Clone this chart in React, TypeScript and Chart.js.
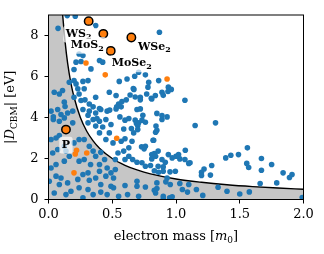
import React, { useEffect, useRef } from "react";
import { Chart, registerables } from "chart.js";
Chart.register(...registerables);

const bluePts: [number, number][] = [
  [0.075,8.35],[0.147,8.97],[0.21,8.94],[0.37,8.49],[0.27,7.02],[0.24,7.1],[0.255,6.73],[0.216,6.7],[0.40,6.78],[0.425,6.7],[0.20,6.34],[0.333,6.37],[0.163,5.72],[0.2,5.8],[0.216,5.64],[0.27,5.76],[0.31,5.8],[0.23,5.4],[0.28,5.4],[0.24,5.15],[0.045,5.23],[0.085,5.15],[0.11,5.32],[0.2,4.99],[0.255,4.83],[0.32,4.66],[0.37,4.99],[0.477,5.23],[0.124,4.75],
  [0.87,8.16],[0.707,6.21],[0.76,6.08],[0.676,6.01],[0.616,5.88],[0.555,5.76],[0.786,5.72],[0.864,5.8],[0.67,5.37],[0.78,5.48],[0.94,5.48],[0.963,5.37],[0.937,5.27],[0.89,5.23],[0.838,5.07],[0.806,4.94],[0.64,5.1],[0.72,4.99],[0.77,5.15],[0.53,5.07],[0.576,4.78],[0.55,4.66],
  [1.07,4.84],[0.85,4.2],[0.89,3.9],[0.93,4.03],[0.843,3.58],[1.15,3.61],[1.31,3.74],
  [1.073,2.40],[1.02,2.19],[1.03,1.98],[1.07,1.95],[1.10,1.76],[1.22,1.49],[1.20,1.33],[1.20,1.17],[1.27,1.19],[1.28,1.66],[1.39,2.03],[1.43,2.16],[1.49,2.19],[1.03,0.78],[1.10,0.73],[1.05,0.49],[1.09,0.36],[1.16,0.49],[1.21,0.2],[1.33,0.6],[1.40,0.4],[1.50,0.27],
  [1.56,2.52],[1.555,1.76],[1.57,1.56],[1.67,2.0],[1.67,1.43],[1.75,1.71],[1.84,1.30],[1.91,1.22],[1.89,1.07],[1.79,0.81],[1.66,0.78],[1.575,0.37],[1.99,0.1],
  [0.92,0.86],[0.95,0.08],[0.9,0.03],[0.85,0.54],[0.83,0.45],[1.11,1.79],[0.94,2.19],[0.90,1.59],[0.953,1.35],[0.83,2.24],[0.86,2.36],[0.82,2.89],[0.85,3.38],
  [0.53,4.42],[0.694,4.39],[0.72,4.42],[0.89,4.1],[0.6,3.87],[0.68,3.87],[0.733,3.87],[0.76,3.77],[0.707,3.74],[0.70,3.6],[0.59,3.44],[0.668,3.25],[0.70,3.41],[0.84,3.28],[0.506,2.76],[0.57,2.84],[0.60,2.96],[0.655,2.84],[0.63,2.52],[0.73,2.57],[0.75,2.47],[0.76,2.6],[0.825,2.89],[0.545,2.27],[0.59,2.36],[0.63,2.11],[0.60,1.95],[0.66,1.95],[0.694,1.82],[0.733,1.79],[0.81,2.19],[0.81,1.98],[0.84,2.11],[0.76,1.62],[0.80,1.66],[0.86,1.62],[0.89,1.95],[0.916,1.82],[0.97,2.03],[1.0,2.11],[0.995,1.38],[0.864,1.33],[0.90,1.38],[0.83,1.4],[0.524,1.95],[0.524,1.46],[0.51,1.05],[0.60,0.68],[0.694,0.89],[0.694,0.65],[0.76,0.61],[0.85,0.81],[0.955,0.73],[0.51,0.57],[0.55,0.16],[0.62,0.24],[0.707,0.16],[0.84,0.32],[0.90,0.16],[0.97,0.13],[0.93,1.05],
  [0.27,4.39],[0.32,4.31],[0.37,4.22],[0.41,4.39],[0.46,4.31],[0.35,3.9],[0.40,3.82],[0.45,3.9],[0.31,3.74],[0.37,3.58],[0.425,3.54],[0.49,3.66],[0.477,3.25],[0.45,2.93],[0.40,3.25],
  [0.286,4.86],[0.35,4.52],[0.40,4.44],[0.48,4.36],[0.535,4.52],[0.31,4.11],[0.38,3.95],[0.69,3.71],[0.74,4.11],[0.81,4.9],[0.9,5.08],[0.665,5.41],[0.68,5.0],[0.72,4.86],[0.61,4.86],[0.57,4.52],[0.56,4.03],[0.63,3.95],[0.65,3.46],
  [0.02,4.31],[0.072,4.39],[0.098,4.15],[0.038,3.9],[0.085,3.82],[0.124,3.98],[0.15,4.22],[0.19,3.74],[0.19,4.31],[0.24,2.93],[0.20,2.76],[0.28,2.93],[0.32,2.6],[0.35,2.36],[0.37,2.11],[0.41,2.3],[0.44,1.95],[0.40,1.71],[0.46,1.54],[0.33,1.71],[0.28,1.95],[0.24,1.87],[0.163,2.11],[0.124,1.87],[0.059,1.71],[0.02,1.54],[0.059,1.14],[0.098,1.05],[0.15,0.81],[0.23,0.98],[0.27,1.22],[0.31,1.30],[0.32,0.94],[0.37,1.05],[0.41,0.73],[0.45,1.14],[0.49,1.30],[0.40,1.38],[0.24,0.57],[0.31,0.49],[0.176,0.4],[0.137,0.24],[0.35,0.24],[0.41,0.36],[0.46,0.24],[0.49,0.65],[0.045,0.32],[0.085,0.73],[0.006,0.89],[0.27,0.08],[0.124,2.6],[0.072,2.44],[0.033,2.27],[0.137,2.36],[0.02,2.93],[0.059,3.0],[0.085,3.12],
  [0.038,4.03],[0.13,4.54],
];

const orangePts: [number, number][] = [
  [0.294,6.66],[0.445,6.08],[0.93,5.88],[0.22,2.40],[0.21,2.22],[0.30,2.27],[0.2,1.3],[0.535,2.99],
];

const hlNames = ["WS_2", "MoS_2", "MoSe_2", "WSe_2", "P"];
const hlMass = [0.315, 0.43, 0.488, 0.65, 0.137];
const hlD = [8.70, 8.08, 7.25, 7.90, 3.41];

const curveMass = [0.111, 0.13, 0.15, 0.175, 0.2, 0.25, 0.3, 0.35, 0.4, 0.5, 0.6, 0.7, 0.8, 1.0, 1.2, 1.4, 1.6, 1.8, 2.0];
const curveD = [9.0, 7.7, 6.65, 5.7, 5.0, 4.0, 3.33, 2.86, 2.5, 2.0, 1.67, 1.43, 1.25, 1.0, 0.84, 0.72, 0.63, 0.56, 0.5];

const xTicks = [0, 0.5, 1.0, 1.5, 2.0];
const yTicks = [0, 2, 4, 6, 8];

const FAM = "'DejaVu Serif', serif";
const labelOffsets: [number, number][] = [[-10, 15.5], [-16, 14], [21, 15.5], [23, 12], [0, 18]];

type Seg = { t: string; sub?: boolean; it?: boolean };

function parseName(n: string): Seg[] {
  const i = n.indexOf("_");
  if (i < 0) return [{ t: n }];
  return [{ t: n.slice(0, i) }, { t: n.slice(i + 1), sub: true }];
}

function fontFor(s: Seg, size: number, bold: boolean) {
  const sz = s.sub ? Math.round(size * 0.72) : size;
  return `${s.it ? "italic " : ""}${bold ? "bold " : ""}${sz}px ${FAM}`;
}

function measure(ctx: CanvasRenderingContext2D, segs: Seg[], size: number, bold: boolean) {
  let w = 0;
  for (const s of segs) {
    ctx.font = fontFor(s, size, bold);
    w += ctx.measureText(s.t).width;
  }
  return w;
}

function drawRich(ctx: CanvasRenderingContext2D, segs: Seg[], cx: number, baseline: number, size: number, bold: boolean) {
  const w = measure(ctx, segs, size, bold);
  let x = cx - w / 2;
  ctx.textAlign = "left";
  ctx.textBaseline = "alphabetic";
  ctx.fillStyle = "#000";
  for (const s of segs) {
    ctx.font = fontFor(s, size, bold);
    ctx.fillText(s.t, x, baseline + (s.sub ? size * 0.25 : 0));
    x += ctx.measureText(s.t).width;
  }
  return w;
}

const decor = {
  id: "decor",
  afterDatasetsDraw(chart: any) {
    const { ctx, chartArea: a, scales } = chart;
    const xs = scales.x, ys = scales.y;
    ctx.save();
    ctx.strokeStyle = "#000";
    ctx.lineWidth = 1;
    ctx.strokeRect(a.left, a.top, a.right - a.left, a.bottom - a.top);
    const size = 11;
    hlNames.forEach((n, i) => {
      const px = xs.getPixelForValue(hlMass[i]) + labelOffsets[i][0];
      const py = ys.getPixelForValue(hlD[i]) + labelOffsets[i][1];
      const segs = parseName(n);
      const w = measure(ctx, segs, size, true);
      ctx.fillStyle = "rgba(255,255,255,0.7)";
      ctx.beginPath();
      (ctx as any).roundRect(px - w / 2 - 2.5, py - size * 0.85 - 1.5, w + 5, size * 1.25 + 3, 2.5);
      ctx.fill();
      drawRich(ctx, segs, px, py, size, true);
    });
    ctx.restore();
  },
  afterDraw(chart: any) {
    const { ctx, chartArea: a } = chart;
    ctx.save();
    const xt: Seg[] = [{ t: "electron mass [" }, { t: "m", it: true }, { t: "0", sub: true }, { t: "]" }];
    drawRich(ctx, xt, (a.left + a.right) / 2, 239.5, 13, false);
    ctx.translate(14, (a.top + a.bottom) / 2);
    ctx.rotate(-Math.PI / 2);
    const yt: Seg[] = [{ t: "|" }, { t: "D", it: true }, { t: "CBM", sub: true }, { t: "| [eV]" }];
    drawRich(ctx, yt, 0, 0, 13, false);
    ctx.restore();
  },
};

export default function App() {
  const ref = useRef<HTMLCanvasElement | null>(null);
  useEffect(() => {
    if (!ref.current) return;
    const fillData = [{ x: 0, y: curveD[0] }, ...curveMass.map((m, i) => ({ x: m, y: curveD[i] }))];
    const curveData = curveMass.map((m, i) => ({ x: m, y: curveD[i] }));
    const tickFont = { family: FAM, size: 13 };
    const chart = new Chart(ref.current, {
      type: "scatter",
      data: {
        datasets: [
          {
            data: hlMass.map((m, i) => ({ x: m, y: hlD[i] })),
            backgroundColor: "#ff7f0e",
            borderColor: "#000",
            borderWidth: 1.5,
            pointRadius: 4.2,
            order: 0,
          } as any,
          {
            data: orangePts.map(([x, y]) => ({ x, y })),
            backgroundColor: "#ff7f0e",
            borderWidth: 0,
            pointRadius: 2.8,
            order: 1,
          },
          {
            data: bluePts.map(([x, y]) => ({ x, y })),
            backgroundColor: "#1f77b4",
            borderWidth: 0,
            pointRadius: 2.8,
            order: 2,
          },
          {
            type: "line",
            data: curveData,
            showLine: true,
            borderColor: "#000",
            borderWidth: 1.4,
            pointRadius: 0,
            fill: false,
            cubicInterpolationMode: "monotone",
            order: 3,
          } as any,
          {
            type: "line",
            data: fillData,
            showLine: true,
            borderColor: "rgba(0,0,0,0)",
            borderWidth: 0,
            backgroundColor: "#c6c6c6",
            pointRadius: 0,
            fill: "origin",
            cubicInterpolationMode: "monotone",
            order: 4,
          } as any,
        ],
      },
      options: {
        responsive: false,
        animation: false,
        events: [],
        layout: { autoPadding: false, padding: { top: 15, right: 20.5, left: 0, bottom: 0 } },
        plugins: { legend: { display: false }, tooltip: { enabled: false } },
        scales: {
          x: {
            type: "linear",
            min: 0,
            max: 2,
            afterBuildTicks: (ax: any) => { ax.ticks = xTicks.map((v) => ({ value: v })); },
            afterFit: (s: any) => { s.height = 54.5; },
            ticks: { font: tickFont, color: "#000", padding: 3, callback: (v: any) => Number(v).toFixed(1), maxRotation: 0 },
            grid: { drawOnChartArea: false, drawTicks: true, tickLength: 4, color: "#000" },
            border: { display: true, color: "#000", width: 1 },
          },
          y: {
            type: "linear",
            min: 0,
            max: 9,
            afterBuildTicks: (ax: any) => { ax.ticks = yTicks.map((v) => ({ value: v })); },
            afterFit: (s: any) => { s.width = 48.5; },
            ticks: { font: tickFont, color: "#000", padding: 6 },
            grid: { drawOnChartArea: false, drawTicks: true, tickLength: 4, color: "#000" },
            border: { display: true, color: "#000", width: 1 },
          },
        },
      } as any,
      plugins: [decor],
    });
    return () => chart.destroy();
  }, []);
  return (
    <div style={{ position: "absolute", left: 0, top: 0, width: 324, height: 254, background: "#fff" }}>
      <canvas ref={ref} width={324} height={254} />
    </div>
  );
}
